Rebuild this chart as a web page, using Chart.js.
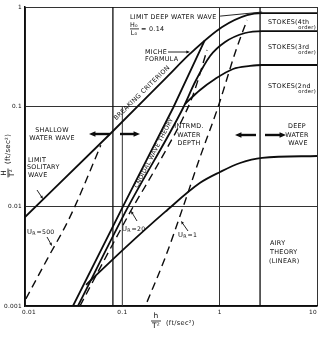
<!DOCTYPE html>
<html>
<head>
<meta charset="utf-8">
<script src="https://cdn.jsdelivr.net/npm/chart.js@4.4.1/dist/chart.umd.min.js"></script>
<style>
  html, body { margin: 0; padding: 0; background: #fff; }
  #wrap { width: 325px; height: 342px; }
</style>
</head>
<body>
<div id="wrap"><canvas id="chart" width="325" height="342"></canvas></div>
<script>
// axes: h/T^2 and H/T^2, both in ft/sec^2, log-log
const xTicks = [0.01, 0.1, 1, 10];
const xTickLabels = ['0.01', '0.1', '1', '10'];
const yTicks = [0.001, 0.01, 0.1, 1];
const yTickLabels = ['0.001', '0.01', '0.1', '1'];

// breaking criterion (Miche formula), limit solitary wave -> limit deep water wave
const breakingH = [0.01, 0.0748, 0.288, 0.497, 1.06, 1.91, 2.73, 10];
const breakingY = [0.0078, 0.0532, 0.199, 0.34, 0.63, 0.83, 0.87, 0.87];

// cnoidal region, left boundary (runs up into the breaking line)
const cnoidalLeftH = [0.0311, 0.1016, 0.332, 0.70];
const cnoidalLeftY = [0.001, 0.01, 0.097, 0.46];

// cnoidal right boundary, bending into the Stokes 4th / 3rd boundary
const stokes4H = [0.035, 0.1145, 0.4205, 0.5587, 0.797, 1.137, 1.824, 2.73, 10];
const stokes4Y = [0.001, 0.00986, 0.097, 0.1769, 0.3224, 0.4456, 0.5484, 0.574, 0.574];

// Stokes 3rd / 2nd boundary
const stokes3H = [0.441, 0.629, 0.897, 1.373, 2.053, 2.73, 10];
const stokes3Y = [0.1064, 0.147, 0.1896, 0.2388, 0.256, 0.262, 0.262];

// Stokes 2nd / Airy boundary
const stokes2H = [0.0424, 0.1067, 0.275, 0.63, 1.01, 1.62, 2.73, 10];
const stokes2Y = [0.00163, 0.00383, 0.00879, 0.0172, 0.0221, 0.0272, 0.0306, 0.032];

// Ursell number lines (dashed)
const ur500H = [0.0102, 0.0172, 0.029, 0.0562, 0.06];
const ur500Y = [0.00118, 0.00304, 0.00783, 0.0351, 0.041];
const ur20H = [0.0367, 0.0576, 0.0841, 0.1288, 0.188, 0.2812, 0.4108, 0.5328, 0.742];
const ur20Y = [0.001, 0.0023, 0.0046, 0.00986, 0.0184, 0.0368, 0.0735, 0.131, 0.37];
const ur1H = [0.1795, 0.275, 0.421, 0.63, 0.963, 1.474, 1.91];
const ur1Y = [0.0011, 0.00304, 0.00986, 0.0313, 0.0993, 0.371, 0.74];

// shallow / deep water limits of h/T^2, and the short 0.1 grid line
const shallowLimit = 0.08;
const deepLimit = 2.6;
const yRange = [0.001, 1];
const gridX01 = 0.1;
const gridX01Range = [0.001, 0.1];

// leader from the "limit deep water wave" note
const leaderH = [1.01, 2.73];
const leaderY = [0.81, 0.89];

const pts = (xs, ys) => xs.map((x, i) => ({ x: x, y: ys[i] }));
const INK = '#0d0d0d';
const FONT = '"DejaVu Sans", sans-serif';

function curve(xs, ys, opts) {
    return Object.assign({
        data: pts(xs, ys),
        borderColor: INK,
        borderWidth: 1.8,
        pointRadius: 0,
        fill: false,
        cubicInterpolationMode: 'monotone'
    }, opts || {});
}

const straight = { cubicInterpolationMode: 'default', tension: 0 };

const datasets = [
    curve(breakingH, breakingY),
    curve(cnoidalLeftH, cnoidalLeftY, straight),
    curve(stokes4H, stokes4Y),
    curve(stokes3H, stokes3Y),
    curve(stokes2H, stokes2Y),
    curve(ur500H, ur500Y, { borderDash: [8, 5], borderWidth: 1.4 }),
    curve(ur20H, ur20Y, { borderDash: [8, 5], borderWidth: 1.4 }),
    curve(ur1H, ur1Y, { borderDash: [8, 5], borderWidth: 1.4 }),
    curve([shallowLimit, shallowLimit], yRange, Object.assign({ borderWidth: 1.3 }, straight)),
    curve([deepLimit, deepLimit], yRange, Object.assign({ borderWidth: 1.3 }, straight)),
    curve([gridX01, gridX01], gridX01Range, Object.assign({ borderWidth: 1, borderColor: '#333' }, straight)),
    curve(leaderH, leaderY, Object.assign({ borderWidth: 0.9 }, straight))
];

function arrow(ctx, x1, y1, x2, y2, w, head) {
    const a = Math.atan2(y2 - y1, x2 - x1);
    ctx.save();
    ctx.strokeStyle = INK;
    ctx.fillStyle = INK;
    ctx.lineWidth = w;
    ctx.beginPath();
    ctx.moveTo(x1, y1);
    ctx.lineTo(x2 - Math.cos(a) * head * 0.8, y2 - Math.sin(a) * head * 0.8);
    ctx.stroke();
    ctx.beginPath();
    ctx.moveTo(x2, y2);
    ctx.lineTo(x2 - head * Math.cos(a - 0.4), y2 - head * Math.sin(a - 0.4));
    ctx.lineTo(x2 - head * Math.cos(a + 0.4), y2 - head * Math.sin(a + 0.4));
    ctx.closePath();
    ctx.fill();
    ctx.restore();
}

function label(ctx, str, x, y, align, size) {
    ctx.font = '500 ' + (size || 6.4) + 'px ' + FONT;
    ctx.textAlign = align || 'left';
    ctx.fillText(str, x, y);
}

function ursellLabel(ctx, num, x, y) {
    ctx.textAlign = 'left';
    ctx.font = '6.8px ' + FONT;
    ctx.fillText('U', x, y);
    const w = ctx.measureText('U').width;
    ctx.font = '4.8px ' + FONT;
    ctx.fillText('R', x + w, y + 2);
    const w2 = ctx.measureText('R').width;
    ctx.font = '6.2px ' + FONT;
    ctx.fillText('=' + num, x + w + w2 + 0.5, y);
}

const notes = {
    id: 'notes',
    afterDatasetsDraw(chart) {
        const ctx = chart.ctx;
        const xs = chart.scales.x, ys = chart.scales.y;
        ctx.save();
        ctx.fillStyle = INK;
        ctx.textBaseline = 'middle';
        if ('letterSpacing' in ctx) ctx.letterSpacing = '0.3px';

        // tick labels
        const xOff = [4, 0, 0, -4];
        xTicks.forEach((v, i) => label(ctx, xTickLabels[i], xs.getPixelForValue(v) + xOff[i], ys.bottom + 6, 'center', 5.8));
        yTicks.forEach((v, i) => label(ctx, yTickLabels[i], xs.left - 3, ys.getPixelForValue(v), 'right', 5.8));

        // region notes
        label(ctx, 'LIMIT DEEP WATER WAVE', 130, 17);
        label(ctx, 'H\u2080', 134, 25, 'center');
        ctx.fillRect(130, 28.5, 9, 0.8);
        label(ctx, 'L\u2080', 134, 33, 'center');
        label(ctx, '= 0.14', 141, 29);
        label(ctx, 'MICHE', 145, 52);
        label(ctx, 'FORMULA', 145, 59);
        label(ctx, 'SHALLOW', 52, 130, 'center');
        label(ctx, 'WATER WAVE', 52, 138, 'center');
        label(ctx, 'LIMIT', 28, 160);
        label(ctx, 'SOLITARY', 27, 167);
        label(ctx, 'WAVE', 28, 175);
        label(ctx, 'INTRMD.', 189, 126, 'center');
        label(ctx, 'WATER', 189, 135, 'center');
        label(ctx, 'DEPTH', 189, 143, 'center');
        label(ctx, 'DEEP', 297, 126, 'center');
        label(ctx, 'WATER', 297, 135, 'center');
        label(ctx, 'WAVE', 298, 143, 'center');
        label(ctx, 'STOKES(4th', 268, 22);
        label(ctx, 'order)', 316, 28, 'right', 5.2);
        label(ctx, 'STOKES(3rd', 268, 47);
        label(ctx, 'order)', 316, 53, 'right', 5.2);
        label(ctx, 'STOKES(2nd', 268, 86);
        label(ctx, 'order)', 316, 92, 'right', 5.2);
        label(ctx, 'AIRY', 270, 243);
        label(ctx, 'THEORY', 270, 252);
        label(ctx, '(LINEAR)', 269, 261);
        ursellLabel(ctx, '500', 27, 232);
        ursellLabel(ctx, '20', 122, 229);
        ursellLabel(ctx, '1', 178, 235);

        // rotated notes along the lines
        ctx.save();
        ctx.translate(142, 93);
        ctx.rotate(-44.3 * Math.PI / 180);
        label(ctx, 'BREAKING CRITERION', 0, 0, 'center');
        ctx.restore();
        ctx.save();
        ctx.translate(154, 153);
        ctx.rotate(-62.5 * Math.PI / 180);
        label(ctx, 'CNOIDAL WAVE THEORY', 0, 0, 'center', 6);
        ctx.restore();

        // arrows
        arrow(ctx, 168, 52, 190, 52, 0.9, 4);
        arrow(ctx, 37, 190, 43, 199, 0.9, 3.5);
        arrow(ctx, 47, 237, 52, 246, 0.9, 3.5);
        arrow(ctx, 137, 221, 131, 211, 0.9, 3.5);
        arrow(ctx, 188, 231, 181, 221, 0.9, 3.5);
        arrow(ctx, 110, 134, 89, 134, 2.4, 7);
        arrow(ctx, 120, 134, 140, 134, 2.4, 7);
        arrow(ctx, 256, 135, 235, 135, 2.4, 7);
        arrow(ctx, 265, 135, 286, 135, 2.4, 7);

        // axis titles
        ctx.save();
        ctx.translate(8, 173);
        ctx.rotate(-Math.PI / 2);
        label(ctx, 'H', 0, -3.6, 'center', 7.2);
        ctx.fillRect(-4.5, -0.4, 9, 0.8);
        label(ctx, 'T\u00b2', 0, 3.9, 'center', 7.2);
        label(ctx, '(ft/sec\u00b2)', 9, 0, 'left', 7);
        ctx.restore();
        label(ctx, 'h', 156, 316, 'center', 7.5);
        ctx.fillRect(151, 320.6, 10, 0.8);
        label(ctx, 'T\u00b2', 156, 326.5, 'center', 7.5);
        label(ctx, '(ft/sec\u00b2)', 166, 323, 'left', 6.6);
        ctx.restore();
    }
};

new Chart(document.getElementById('chart'), {
    type: 'line',
    data: { datasets: datasets },
    options: {
        responsive: false,
        animation: false,
        devicePixelRatio: 1,
        layout: { padding: { left: 25, top: 7, right: 8, bottom: 36 } },
        plugins: { legend: { display: false }, tooltip: { enabled: false } },
        scales: {
            x: {
                type: 'logarithmic',
                min: 0.01,
                max: 10,
                afterBuildTicks: (scale) => { scale.ticks = xTicks.map(v => ({ value: v })); },
                ticks: { display: false },
                grid: {
                    color: (c) => (c.tick && c.tick.value === gridX01 ? 'rgba(0,0,0,0)' : '#333'),
                    lineWidth: 1,
                    drawTicks: false
                },
                border: { display: true, color: INK, width: 1.5 }
            },
            y: {
                type: 'logarithmic',
                min: 0.001,
                max: 1,
                afterBuildTicks: (scale) => { scale.ticks = yTicks.map(v => ({ value: v })); },
                ticks: { display: false },
                grid: { color: '#333', lineWidth: 1, drawTicks: false },
                border: { display: true, color: INK, width: 1.5 }
            }
        }
    },
    plugins: [notes]
});
</script>
</body>
</html>
